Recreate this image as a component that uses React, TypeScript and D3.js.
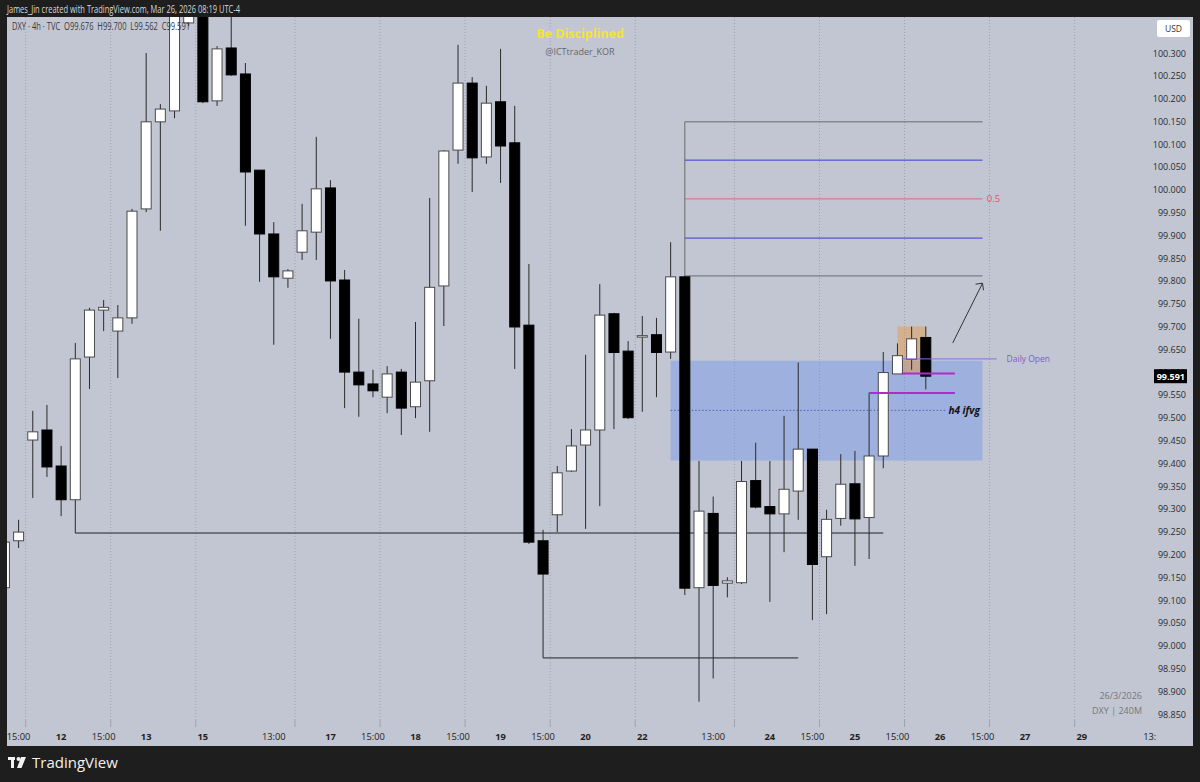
import React from "react";
import * as d3 from "d3";

// ---- data (DXY 4h, TVC) ----
const idx = d3.range(-1, 65);
const opens = [99.127, 99.230, 99.451, 99.473, 99.394, 99.320, 99.633, 99.736, 99.690, 99.719, 99.958, 100.149, 100.173, 100.366, 100.405, 100.195, 100.311, 100.254, 100.043, 99.903, 99.806, 99.863, 99.907, 100.004, 99.802, 99.600, 99.574, 99.545, 99.600, 99.524, 99.581, 99.789, 100.087, 100.234, 100.072, 100.193, 100.103, 99.703, 99.230, 99.287, 99.383, 99.440, 99.473, 99.728, 99.646, 99.678, 99.682, 99.644, 99.809, 99.127, 99.290, 99.137, 99.138, 99.362, 99.305, 99.289, 99.339, 99.431, 99.195, 99.279, 99.355, 99.281, 99.416, 99.596, 99.628, 99.676];
const highs = [99.243, 99.276, 99.515, 99.528, 99.438, 99.664, 99.741, 99.758, 99.747, 99.958, 100.300, 100.188, 100.412, 100.405, 100.416, 100.315, 100.394, 100.278, 100.043, 99.929, 99.826, 99.969, 100.116, 100.021, 99.824, 99.717, 99.605, 99.613, 99.607, 99.710, 99.982, 100.087, 100.318, 100.247, 100.228, 100.309, 100.184, 99.837, 99.254, 99.394, 99.475, 99.638, 99.793, 99.730, 99.668, 99.723, 99.719, 99.885, 99.811, 99.405, 99.327, 99.150, 99.405, 99.445, 99.405, 99.504, 99.621, 99.431, 99.298, 99.420, 99.427, 99.555, 99.644, 99.663, 99.700, 99.700];
const lows = [99.118, 99.214, 99.324, 99.370, 99.284, 99.247, 99.563, 99.690, 99.587, 99.706, 99.951, 99.910, 100.157, 100.359, 100.190, 100.184, 100.250, 99.921, 99.798, 99.660, 99.785, 99.846, 99.846, 99.673, 99.521, 99.502, 99.545, 99.510, 99.462, 99.499, 99.469, 99.701, 100.057, 99.995, 100.057, 100.015, 99.607, 99.223, 98.973, 99.249, 99.381, 99.256, 99.306, 99.475, 99.497, 99.513, 99.545, 99.629, 99.111, 98.877, 98.928, 99.106, 99.135, 99.301, 99.096, 99.205, 99.276, 99.056, 99.069, 99.263, 99.175, 99.190, 99.389, 99.596, 99.605, 99.562];
const closes = [99.227, 99.249, 99.469, 99.392, 99.320, 99.629, 99.736, 99.742, 99.719, 99.953, 100.149, 100.177, 100.394, 100.385, 100.193, 100.309, 100.252, 100.039, 99.903, 99.809, 99.822, 99.910, 100.002, 99.800, 99.600, 99.572, 99.559, 99.596, 99.521, 99.578, 99.786, 100.085, 100.234, 100.070, 100.190, 100.096, 99.699, 99.227, 99.157, 99.379, 99.438, 99.473, 99.725, 99.643, 99.500, 99.680, 99.643, 99.809, 99.126, 99.295, 99.132, 99.142, 99.360, 99.304, 99.289, 99.343, 99.431, 99.178, 99.277, 99.354, 99.278, 99.416, 99.599, 99.636, 99.673, 99.591];

const priceTicks = d3.range(0, 30).map((k) => +(98.85 + k * 0.05).toFixed(2));
const timeLabelIdx = [0, 3, 6, 9, 13, 18, 22, 25, 28, 31, 34, 37, 40, 44, 49, 53, 56, 59, 62, 65, 68, 71, 75, 79.8];
const timeLabels = ["15:00", "12", "15:00", "13", "15", "13:00", "17", "15:00", "18", "15:00", "19", "15:00", "20", "22", "13:00", "24", "15:00", "25", "15:00", "26", "15:00", "27", "29", "13:"];
const gridIdx = [0.5, 6.5, 12.5, 19.5, 25.5, 31.5, 37.5, 43.5, 50.5, 56.5, 62.5, 68.5, 74.5];

// annotation levels
const fibLevels = [100.149, 100.065, 99.98, 99.894, 99.811];
const fibColors = ["#6b6b6b", "#3a3ad6", "#d86878", "#3a3ad6", "#6b6b6b"];
const hLow1 = 99.247;
const hLow2 = 98.973;
const fvgTop = 99.625;
const fvgBottom = 99.406;
const fvgMid = 99.516;
const dailyOpen = 99.629;
const magenta1 = 99.597;
const magenta2 = 99.554;
const boxTop = 99.7;
const boxBottom = 99.599;
const lastPrice = 99.591;

export default function App() {
  const x = d3.scaleLinear().domain([0, 64]).range([18.6, 925.8]);
  const y = d3.scaleLinear().domain([98.85, 100.3]).range([714, 53]);
  const bw = 10;
  const fmt = d3.format(".3f");
  const font = "'Open Sans', 'Noto Sans', sans-serif";
  const panelTop = 17;
  const chartRight = 1145;

  return (
    <svg width={1200} height={782} style={{ position: "absolute", left: 0, top: 0, display: "block" }} fontFamily={font}>
      <defs>
        <clipPath id="plot">
          <rect x={7} y={panelTop} width={chartRight - 7} height={720 - panelTop} />
        </clipPath>
      </defs>
      <rect x={0} y={0} width={1200} height={782} fill="#1e1e1e" />
      <rect x={7} y={panelTop} width={1186} height={746 - panelTop} fill="#c2c6d3" />
      <text x={7} y={12.5} fontSize={10.5} fill="#d8d8d8" textLength={233} lengthAdjust="spacingAndGlyphs">James_Jin created with TradingView.com, Mar 26, 2026 08:19 UTC-4</text>

      <g clipPath="url(#plot)">
        {gridIdx.map((g, i) => (
          <line key={i} x1={x(g)} x2={x(g)} y1={panelTop} y2={727} stroke="#9ea2ae" strokeDasharray="1,2" strokeWidth={1} />
        ))}
        {/* FVG zone */}
        <rect x={x(46)} y={y(fvgTop)} width={x(68) - x(46)} height={y(fvgBottom) - y(fvgTop)} fill="rgba(110,145,235,0.42)" />
        <line x1={x(46)} x2={x(65.5)} y1={y(fvgMid)} y2={y(fvgMid)} stroke="#4a62c8" strokeDasharray="1.5,2" strokeWidth={1} />
        {/* orange box */}
        <rect x={x(62)} y={y(boxTop)} width={x(64) - x(62)} height={y(boxBottom) - y(boxTop)} fill="rgba(232,150,60,0.45)" />
        {/* horizontal lines */}
        <line x1={x(4)} x2={x(61)} y1={y(hLow1)} y2={y(hLow1)} stroke="#222" strokeWidth={1} />
        <line x1={x(37)} x2={x(55)} y1={y(hLow2)} y2={y(hLow2)} stroke="#222" strokeWidth={1} />
        {/* fib */}
        <line x1={x(47)} x2={x(47)} y1={y(fibLevels[0])} y2={y(fibLevels[4])} stroke="#6b6b6b" strokeWidth={1} />
        {fibLevels.map((lv, i) => (
          <line key={i} x1={x(47)} x2={x(68)} y1={y(lv)} y2={y(lv)} stroke={fibColors[i]} strokeWidth={1} />
        ))}
        {/* candles */}
        {idx.map((i, k) => {
          const o = opens[k], h = highs[k], l = lows[k], c = closes[k];
          const up = c >= o;
          const cx = x(i);
          const top = y(Math.max(o, c));
          const bot = y(Math.min(o, c));
          return (
            <g key={k}>
              <line x1={cx} x2={cx} y1={y(h)} y2={y(l)} stroke="#2a2a2a" strokeWidth={1} />
              <rect x={cx - bw / 2} y={top} width={bw} height={Math.max(1.5, bot - top)} fill={up ? "#ffffff" : "#000000"} stroke={up ? "#4a4a4a" : "#000"} strokeWidth={1} />
            </g>
          );
        })}
        {/* daily open + magenta */}
        <line x1={x(62.3)} x2={x(69.0)} y1={y(dailyOpen)} y2={y(dailyOpen)} stroke="#8a6ad8" strokeWidth={1} />
        <line x1={x(62.3)} x2={x(66.05)} y1={y(magenta1)} y2={y(magenta1)} stroke="#b02cc4" strokeWidth={2} />
        <line x1={x(60)} x2={x(66.05)} y1={y(magenta2)} y2={y(magenta2)} stroke="#b02cc4" strokeWidth={2} />
        {/* arrow */}
        <line x1={x(65.9)} y1={y(99.664)} x2={x(68)} y2={y(99.795)} stroke="#333" strokeWidth={1} />
        <path d={`M${x(68) - 7},${y(99.795) + 1} L${x(68)},${y(99.795)} L${x(68) + 1},${y(99.795) + 7}`} fill="none" stroke="#333" strokeWidth={1} />
        <text x={x(65.6)} y={y(fvgMid) + 3.5} fontSize={10} fontStyle="italic" fontWeight="bold" fill="#111">h4 ifvg</text>
        <text x={x(69.7)} y={y(dailyOpen) + 3} fontSize={8.5} fill="#7a5cd0">Daily Open</text>
        <text x={x(68.3)} y={y(fibLevels[2]) + 3.5} fontSize={9.5} fill="#e05565">0.5</text>
      </g>

      {/* legend */}
      <text x={12} y={30} fontSize={10.5} fill="#3a3a3a" style={{ whiteSpace: "pre" }} textLength={178} lengthAdjust="spacingAndGlyphs">DXY · 4h · TVC  O99.676  H99.700  L99.562  C99.591</text>
      <text x={580} y={38} fontSize={12.5} fontWeight="bold" fill="#f2e435" textAnchor="middle">Be Disciplined</text>
      <text x={580} y={55} fontSize={9} fill="#666" textAnchor="middle">@ICTtrader_KOR</text>

      {/* price axis */}
      <rect x={1157} y={20} width={33} height={17} rx={2} fill="#ffffff" />
      <text x={1173.5} y={31.5} fontSize={8.5} fill="#333" textAnchor="middle">USD</text>
      {priceTicks.map((p, i) => (
        <text key={i} x={1186} y={y(p) + 3.5} fontSize={9} fill="#2a2a2a" textAnchor="end">{fmt(p)}</text>
      ))}
      <rect x={1154} y={y(lastPrice) - 7} width={33} height={14} fill="#000" />
      <text x={1185} y={y(lastPrice) + 3.5} fontSize={9} fill="#fff" fontWeight="bold" textAnchor="end">{fmt(lastPrice)}</text>

      {/* time axis */}
      {gridIdx.map((g, i) => (
        <line key={i} x1={x(g)} x2={x(g)} y1={720} y2={727} stroke="#9ea2ae" strokeWidth={1} />
      ))}
      {timeLabelIdx.map((t, i) => {
        const isDay = !timeLabels[i].includes(":");
        return (
          <text key={i} x={x(t)} y={740} fontSize={9.3} fill="#222" fontWeight={isDay ? "bold" : "normal"} textAnchor="middle">{timeLabels[i]}</text>
        );
      })}
      <text x={1142} y={699} fontSize={9} fill="#777" textAnchor="end">26/3/2026</text>
      <text x={1142} y={714} fontSize={9} fill="#777" textAnchor="end">DXY | 240M</text>

      {/* footer */}
      <g fill="#f2f2f2">
        <rect x={8} y={757} width={7} height={3} />
        <rect x={11} y={757} width={3} height={11} />
        <circle cx={18.5} cy={759} r={2} />
        <path d="M21,757 L26,757 L21.5,768 L17,768 Z" />
      </g>
      <text x={32} y={768} fontSize={15} fill="#f2f2f2" fontWeight="500">TradingView</text>
    </svg>
  );
}
